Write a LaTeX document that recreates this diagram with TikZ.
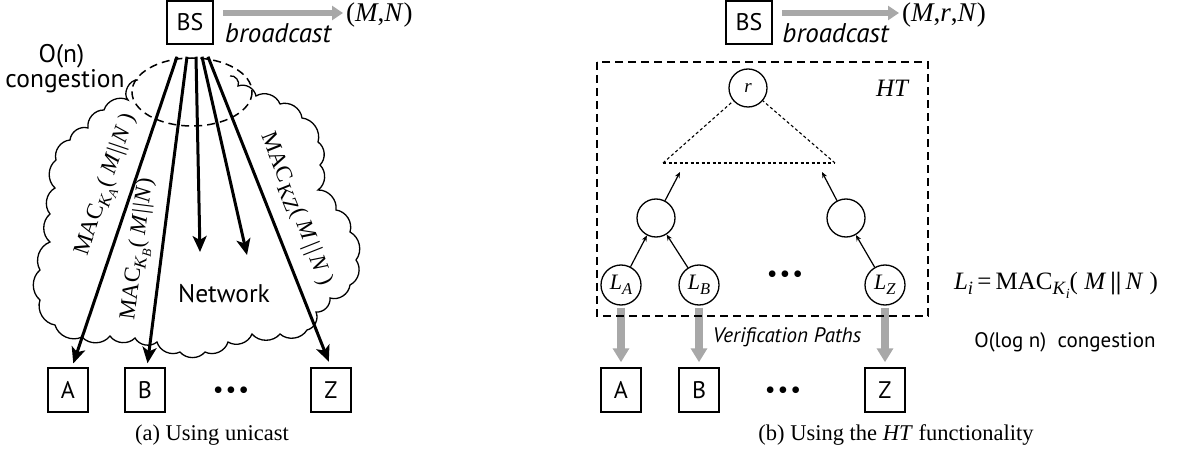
\documentclass[tikz,border=0pt]{standalone}
\usepackage{fontspec}
\usepackage{graphicx}
\setmainfont{Liberation Serif}
\newfontfamily\sff{PT Sans}
\usetikzlibrary{arrows.meta}
\definecolor{arrgray}{RGB}{168,168,168}
\newcommand\lsub[1]{\raisebox{-0.45ex}{\scalebox{0.75}{#1}}}
\newcommand\threedots{\textbullet\kern3pt\textbullet\kern3pt\textbullet}
\begin{document}
\begin{tikzpicture}[x=1pt,y=-1pt,
  sbox/.style={draw, line width=1.5pt, minimum width=40pt, minimum height=44pt, inner sep=0pt, font=\sff\fontsize{24}{28}\selectfont},
  bsbox/.style={sbox, minimum width=46pt, minimum height=43pt},
  circ/.style={circle, draw, line width=1.3pt, minimum size=38pt, inner sep=0pt},
  leaf/.style={circ, minimum size=40pt, font=\fontsize{22}{24}\selectfont},
  fan/.style={line width=3pt, -{Stealth[length=16pt,width=14pt,inset=4pt]}},
  treearr/.style={line width=1.2pt, -{Stealth[length=6pt,width=5pt]}},
  grayarr/.style={draw=arrgray, line width=6pt, -{Triangle[length=11pt,width=14pt]}},
  verarr/.style={draw=arrgray, line width=8pt, -{Triangle[length=14pt,width=16pt]}, shorten <=2pt, shorten >=5pt},
  dashline/.style={line width=1.5pt, dash pattern=on 8pt off 5pt},
  dotline/.style={line width=1.1pt, dash pattern=on 3pt off 2.5pt},
  cloudline/.style={line width=1.3pt},
  sflbl/.style={font=\sff\fontsize{25.5}{30}\selectfont, inner sep=0pt},
  sfit/.style={font=\sff\itshape\fontsize{27}{30}\selectfont, inner sep=0pt},
  serif/.style={font=\fontsize{25}{28}\selectfont, inner sep=0pt},
  maclbl/.style={font=\fontsize{23}{26}\selectfont, inner sep=0pt},
  bigmath/.style={font=\fontsize{27}{30}\selectfont, inner sep=0pt},
  bigdots/.style={font=\fontsize{28}{30}\selectfont, inner sep=0pt},
  caption/.style={font=\fontsize{22.5}{26}\selectfont, inner sep=0pt, anchor=base}
]
\useasboundingbox (0,0) rectangle (1180,454);

% ---------------- (a) unicast ----------------
\draw[cloudline] (138,80) to[bend right=70] (128,100) to[bend right=50] (104,110)
  to[bend right=50] (88,128) to[bend right=50] (70,140) to[bend right=50] (56,160)
  to[bend right=50] (55,188) to[bend right=50] (50,214) to[bend right=50] (50,242)
  to[bend right=50] (40,270) to[bend right=50] (40,300) to[bend right=50] (55,325)
  to[bend right=50] (82,337) to[bend right=50] (110,336) to[bend right=50] (135,338)
  to[bend right=50] (157,342) to[bend right=50] (180,352) to[bend right=50] (205,352)
  to[bend right=50] (228,342) to[bend right=50] (252,334) to[bend right=50] (280,334)
  to[bend right=50] (307,330) to[bend right=50] (316,312) to[bend right=50] (330,298)
  to[bend right=50] (350,285) to[bend right=50] (356,260) to[bend right=50] (350,232)
  to[bend right=50] (336,210) to[bend right=50] (318,190) to[bend right=50] (320,165)
  to[bend right=50] (318,142) to[bend right=50] (302,118) to[bend right=50] (280,104)
  to[bend right=50] (256,96) to[bend right=50] (238,86) to[bend right=70] (230,76);
\draw[dashline] (192,92) ellipse [x radius=60, y radius=34];

\node[bsbox] (BS) at (190,22.5) {BS};
\coordinate (b1) at (223,13);
\node[bigmath, anchor=west] (MN) at (346,15) {(\textit{M},\textit{N})};
\draw[grayarr] (b1) -- node[sfit, below=8pt, xshift=-5pt] (bc1) {broadcast} ([xshift=-3pt]MN.west |- b1);

\node[sflbl, anchor=base] (On) at (61.5,63) {O(n)};
\node[sflbl, anchor=base] (cong) at (65,88) {congestion};
\node[sflbl, anchor=base] (net) at (224,302) {Network};

\node[sbox] (A) at (68,390) {A};
\node[sbox] (B) at (145,390) {B};
\node[sbox] (Z) at (331,390) {Z};
\node[bigdots] (dots1) at (231,393) {\threedots};

\coordinate (s1) at ([shift={(-13,12)}]BS.south);
\coordinate (s2) at ([shift={(-3,12)}]BS.south);
\coordinate (s3) at ([shift={(6,12)}]BS.south);
\coordinate (s4) at ([shift={(12,12)}]BS.south);
\coordinate (s5) at ([shift={(18,12)}]BS.south);
\coordinate (e3) at (200,252);
\coordinate (e4) at (247,255);

\draw[fan, shorten >=4pt] (s1) -- node[maclbl, pos=.44, sloped, above=11pt] (macA)
  {MAC\lsub{\textit{K}\lsub{\textit{A}}}( \textit{M}\kern1pt|\kern1pt|\kern1pt\textit{N} )} ([xshift=4pt]A.north);
\draw[fan, shorten >=4pt] (s2) -- node[maclbl, pos=.63, sloped, above=9pt] (macB)
  {MAC\lsub{\textit{K}\lsub{\textit{B}}}( \textit{M}\kern1pt|\kern1pt|\kern1pt\textit{N})} ([xshift=2pt]B.north);
\draw[fan] (s3) -- (e3);
\draw[fan] (s4) -- (e4);
\draw[fan, shorten >=6pt] (s5) -- node[maclbl, pos=.52, sloped, above=14pt] (macZ)
  {MAC\kern2pt\raisebox{-0.45ex}{\scalebox{0.9}{KZ}}( \textit{M}\kern3pt|\kern2pt|\kern3pt\textit{N} )} (Z.north);

\node[caption] (capa) at (212,440) {(a) Using unicast};

% ---------------- (b) HT ----------------
\node[bsbox] (BS2) at (749,22.5) {BS};
\coordinate (b3) at (782,13);
\node[bigmath, anchor=west] (MRN) at (902,15) {(\textit{M},\textit{r},\textit{N})};
\draw[grayarr] (b3) -- node[sfit, below=8pt, xshift=-5pt] (bc2) {broadcast} ([xshift=-3pt]MRN.west |- b3);

\node[circ, font=\itshape\fontsize{19}{20}\selectfont] (r) at (748,88) {r};
\coordinate (tl) at (663,163);
\coordinate (tr) at (835,163);
\draw[dotline] (tl) -- (tr);
\draw[dotline] (tl) -- (r);
\draw[dotline] (tr) -- (r);

\node[circ] (m1) at (656,218) {};
\node[circ] (m2) at (846,218) {};
\coordinate (t1) at (680,172);
\coordinate (t2) at (822,172);
\draw[treearr] (m1) -- (t1);
\draw[treearr] (m2) -- (t2);

\node[leaf] (LA) at (621,285) {\textit{L}\lsub{\textit{A}}};
\node[leaf] (LB) at (699,285) {\textit{L}\lsub{\textit{B}}};
\node[leaf] (LZ) at (885,285) {\textit{L}\lsub{\textit{Z}}};
\node[bigdots] (dots2) at (785,277) {\threedots};
\draw[treearr] (LA) -- (m1);
\draw[treearr] (LB) -- (m1);
\draw[treearr] (LZ) -- (m2);

\node[sbox] (A2) at (621,390) {A};
\node[sbox] (B2) at (699,390) {B};
\node[sbox] (Z2) at (885,390) {Z};
\node[bigdots] (dots3) at (783,393) {\threedots};

\draw[verarr] (LA.south) -- (A2.north);
\draw[verarr] (LB.south) -- (B2.north);
\draw[verarr] (LZ.south) -- (Z2.north);

\draw[dashline] (597,62) rectangle (928,316);
\node[font=\itshape\fontsize{25}{28}\selectfont, inner sep=0pt] (HT) at (892,88) {HT};

\node[font=\sff\itshape\fontsize{21}{24}\selectfont, inner sep=0pt] (vp) at (787,337) {Verification Paths};
\node[serif] (Li) at (1056,285) {\textit{L}\lsub{\textit{i}}\,=\,MAC\lsub{\textit{K}\lsub{\textit{i}}}( \textit{M}\,\textbf{||}\,\textit{N} )};
\node[font=\sff\fontsize{21}{24}\selectfont, inner sep=0pt] (olog) at (1065,342) {O(log n)\ \ congestion};

\node[caption] (capb) at (896,440) {(b) Using the \textit{HT} functionality};
\end{tikzpicture}
\end{document}
